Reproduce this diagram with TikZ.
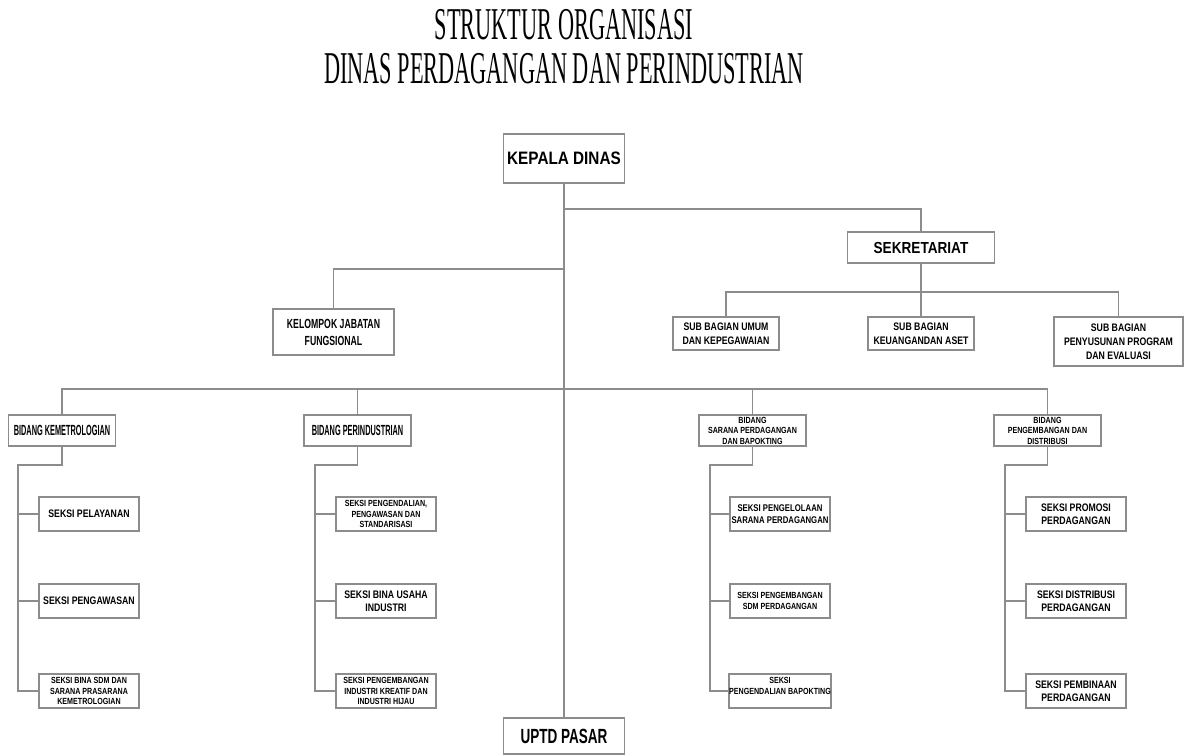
\documentclass[tikz,border=0pt]{standalone}
\usepackage{fontspec}
\usepackage{xcolor}
\usepackage{tikz}
\newfontfamily\titlefont[FakeStretch=0.49]{Liberation Serif}
\newfontfamily\headfont[FakeStretch=0.85]{Liberation Sans}
\newfontfamily\midfont[FakeStretch=0.66]{Liberation Sans}
\newfontfamily\condfont[FakeStretch=0.8]{Liberation Sans}
\newfontfamily\narrowfont[FakeStretch=0.5]{Liberation Sans}
\definecolor{linegray}{HTML}{8C8C8C}

\tikzset{
  box/.style={draw=linegray, line width=1.4pt, fill=white, align=center, inner sep=0pt},
  link/.style={draw=linegray, line width=1.4pt},
  seksi/.style={box, minimum width=100pt, minimum height=34pt},
  bidang/.style={box, minimum width=107pt, minimum height=31pt},
  subbag/.style={box, minimum height=33pt, font=\condfont\bfseries\fontsize{10.9}{14}\selectfont},
  bigtext/.style={font=\condfont\bfseries\fontsize{10.9}{12.7}\selectfont},
  midtext/.style={font=\condfont\bfseries\fontsize{9.7}{11.7}\selectfont},
  smalltext/.style={font=\condfont\bfseries\fontsize{8.9}{10.5}\selectfont},
  widetext/.style={font=\narrowfont\bfseries\fontsize{14.7}{16}\selectfont}
}

\begin{document}
\begin{tikzpicture}[x=1pt, y=-1pt]
        \useasboundingbox (0,0) rectangle (1192,755);

        % judul
        \node[font=\titlefont\fontsize{45.5}{48}\selectfont, anchor=base] (title1) at (564,39) {STRUKTUR ORGANISASI};
        \node[font=\titlefont\fontsize{45.5}{48}\selectfont, anchor=base] (title2) at (564,83) {DINAS PERDAGANGAN DAN PERINDUSTRIAN};

        % pimpinan dan sekretariat
        \node[box, minimum width=121pt, minimum height=49pt, font=\headfont\bfseries\fontsize{18}{20}\selectfont] (kepala) at (564,158.5) {KEPALA DINAS};
        \node[box, minimum width=147pt, minimum height=31pt, font=\headfont\bfseries\fontsize{16}{18}\selectfont] (sekretariat) at (921,247.5) {SEKRETARIAT};
        \node[box, minimum width=121pt, minimum height=46pt, font=\midfont\bfseries\fontsize{13.2}{17}\selectfont] (kelompok) at (333.5,332) {KELOMPOK JABATAN\\FUNGSIONAL};
        \node[subbag, minimum width=106pt] (subumum) at (726,333.5) {SUB BAGIAN UMUM\\DAN KEPEGAWAIAN};
        \node[subbag, minimum width=106pt] (subkeu) at (921,333.5) {SUB BAGIAN\\KEUANGANDAN ASET};
        \node[subbag, minimum width=129pt, minimum height=49pt] (subprog) at (1118.5,341.5) {SUB BAGIAN\\PENYUSUNAN PROGRAM\\DAN EVALUASI};

        % bidang
        \node[bidang, widetext] (kemet) at (62,430.5) {BIDANG KEMETROLOGIAN};
        \node[bidang, widetext] (perind) at (357.5,430.5) {BIDANG PERINDUSTRIAN};
        \node[bidang, smalltext] (sarana) at (752.5,430.5) {BIDANG\\SARANA PERDAGANGAN\\DAN BAPOKTING};
        \node[bidang, smalltext] (pengemb) at (1047.5,430.5) {BIDANG\\PENGEMBANGAN DAN\\DISTRIBUSI};

        % seksi
        \node[seksi, bigtext] (k1) at (89,514) {SEKSI PELAYANAN};
        \node[seksi, bigtext] (k2) at (89,601) {SEKSI PENGAWASAN};
        \node[seksi, smalltext] (k3) at (89,691) {SEKSI BINA SDM DAN\\SARANA PRASARANA\\KEMETROLOGIAN};
        \node[seksi, smalltext] (p1) at (386,514) {SEKSI PENGENDALIAN,\\PENGAWASAN DAN\\STANDARISASI};
        \node[seksi, bigtext] (p2) at (386,601) {SEKSI BINA USAHA\\INDUSTRI};
        \node[seksi, smalltext] (p3) at (386,691) {SEKSI PENGEMBANGAN\\INDUSTRI KREATIF DAN\\INDUSTRI HIJAU};
        \node[seksi, midtext] (s1) at (780,514) {SEKSI PENGELOLAAN\\SARANA PERDAGANGAN};
        \node[seksi, smalltext] (s2) at (780,601) {SEKSI PENGEMBANGAN\\SDM PERDAGANGAN};
        \node[seksi, smalltext] (s3) at (780,691) {SEKSI\\PENGENDALIAN BAPOKTING\\\mbox{}};
        \node[seksi, bigtext] (d1) at (1076,514) {SEKSI PROMOSI\\PERDAGANGAN};
        \node[seksi, bigtext] (d2) at (1076,601) {SEKSI DISTRIBUSI\\PERDAGANGAN};
        \node[seksi, bigtext] (d3) at (1076,691) {SEKSI PEMBINAAN\\PERDAGANGAN};

        \node[box, minimum width=121pt, minimum height=36pt, font=\midfont\bfseries\fontsize{20.5}{22}\selectfont] (uptd) at (564,736) {UPTD PASAR};

        % titik cabang
        \coordinate (jsek) at (564,209);
        \coordinate (jkel) at (564,269);
        \coordinate (jsub) at (921,292);
        \coordinate (jbid) at (564,389);
        \coordinate (kspine) at (18,465);
        \coordinate (pspine) at (315,465);
        \coordinate (sspine) at (710,465);
        \coordinate (dspine) at (1005,465);

        % garis
        \draw[link] (kepala) -- (uptd);
        \draw[link] (jsek) -| (sekretariat.north);
        \draw[link] (jkel) -| (kelompok.north);
        \draw[link] (sekretariat) -- (subkeu);
        \draw[link] (subumum.north) |- (jsub) -| (subprog.north);
        \draw[link] (kemet.north) |- (jbid) -| (pengemb.north);
        \draw[link] (perind.north) -- (perind.north |- jbid);
        \draw[link] (sarana.north) -- (sarana.north |- jbid);

        \draw[link] (kemet.south) |- (kspine) |- (k3.west);
        \draw[link] (kspine |- k1.west) -- (k1.west);
        \draw[link] (kspine |- k2.west) -- (k2.west);
        \draw[link] (perind.south) |- (pspine) |- (p3.west);
        \draw[link] (pspine |- p1.west) -- (p1.west);
        \draw[link] (pspine |- p2.west) -- (p2.west);
        \draw[link] (sarana.south) |- (sspine) |- (s3.west);
        \draw[link] (sspine |- s1.west) -- (s1.west);
        \draw[link] (sspine |- s2.west) -- (s2.west);
        \draw[link] (pengemb.south) |- (dspine) |- (d3.west);
        \draw[link] (dspine |- d1.west) -- (d1.west);
        \draw[link] (dspine |- d2.west) -- (d2.west);
    \end{tikzpicture}
\end{document}
